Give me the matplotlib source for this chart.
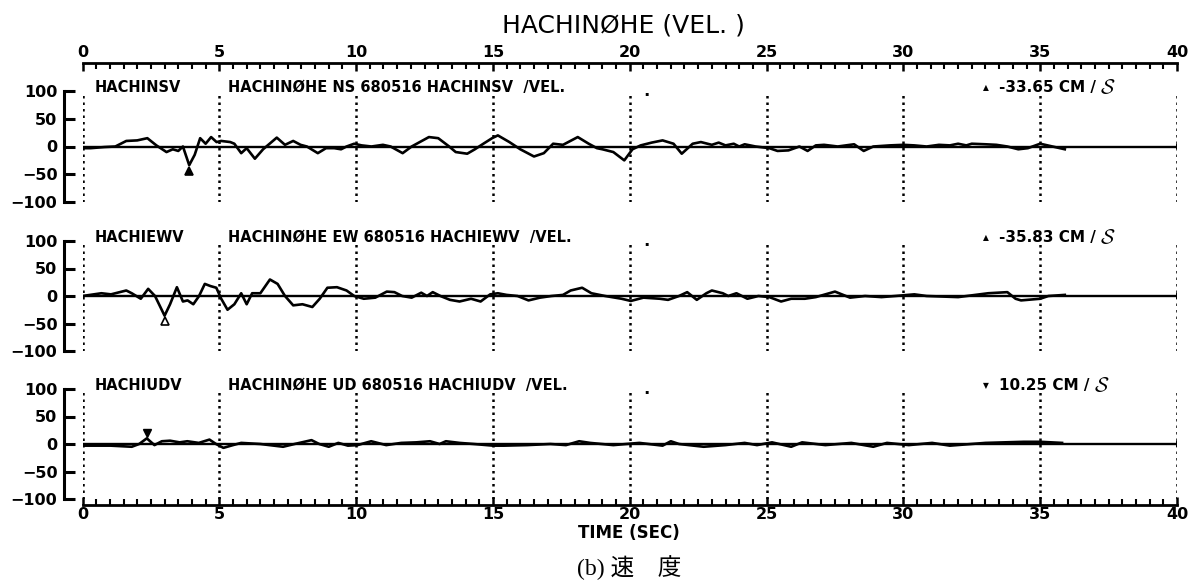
import numpy as np
import matplotlib
matplotlib.use("Agg")
import matplotlib.pyplot as plt
from matplotlib.ticker import MultipleLocator
from matplotlib.transforms import offset_copy

plt.rcParams['font.family'] = ['DejaVu Sans']
plt.rcParams['font.weight'] = 'bold'
plt.rcParams['mathtext.fontset'] = 'cm'

# ---------------- data ----------------
t_ns = [0, 0.3, 0.8, 1.2, 1.6, 2.0, 2.37, 2.7, 3.07, 3.3,
        3.5, 3.67, 3.9, 4.1, 4.3, 4.5, 4.7, 4.9, 5.07, 5.4,
        5.55, 5.8, 6.0, 6.3, 6.6, 7.1, 7.4, 7.7, 7.97, 8.2,
        8.6, 8.9, 9.2, 9.45, 9.65, 9.93, 10.2, 10.56, 10.98, 11.26,
        11.7, 12.03, 12.66, 13.0, 13.4, 13.64, 14.06, 14.34, 14.65, 14.97,
        15.18, 15.6, 16.0, 16.5, 16.86, 17.2, 17.56, 18.1, 18.5, 18.8,
        19.0, 19.4, 19.8, 20.1, 20.4, 20.8, 21.2, 21.6, 21.9, 22.3,
        22.6, 23.0, 23.25, 23.5, 23.8, 24.0, 24.2, 24.6, 25.1, 25.4,
        25.8, 26.2, 26.5, 26.8, 27.1, 27.6, 28.2, 28.55, 28.9, 29.5,
        30.0, 30.4, 30.85, 31.3, 31.7, 32.0, 32.3, 32.5, 33.0, 33.4,
        33.8, 34.2, 34.55, 35.0, 35.45, 35.9]
v_ns = [-3, -3, -1, 0, 10, 11, 15, 2, -10, -5,
        -8, 0, -33.65, -15, 15, 5, 17, 8, 10, 8,
        5, -12, -3, -22, -5, 16, 3, 10, 3, 0,
        -12, -3, -3, -5, 0, 5, 2, 0, 3, 0,
        -12, 0, 17, 15, 0, -10, -13, -5, 5, 15,
        20, 8, -5, -18, -12, 5, 3, 17, 5, -3,
        -5, -10, -25, -5, 2, 7, 11, 5, -13, 5,
        8, 3, 7, 2, 5, 0, 4, 0, -3, -8,
        -7, 0, -8, 2, 3, 0, 4, -8, 0, 2,
        3, 2, 0, 3, 2, 5, 2, 5, 4, 3,
        0, -5, -3, 5, 0, -5]

t_ew = [0, 0.69, 1.04, 1.6, 1.8, 2.13, 2.4, 2.65, 3.0, 3.2,
        3.45, 3.67, 3.84, 4.05, 4.26, 4.47, 4.68, 4.89, 5.07, 5.3,
        5.55, 5.8, 6.0, 6.2, 6.5, 6.85, 7.13, 7.4, 7.7, 8.04,
        8.4, 8.67, 8.95, 9.3, 9.65, 9.93, 10.28, 10.7, 11.12, 11.4,
        11.68, 12.03, 12.38, 12.59, 12.8, 13.08, 13.43, 13.78, 14.2, 14.55,
        14.9, 15.18, 15.5, 15.9, 16.3, 16.72, 17.14, 17.56, 17.84, 18.26,
        18.6, 19.1, 19.7, 20.04, 20.5, 21.1, 21.4, 21.8, 22.1, 22.45,
        22.8, 23.0, 23.4, 23.6, 23.9, 24.3, 24.7, 25.1, 25.53, 25.9,
        26.4, 26.8, 27.5, 28.05, 28.6, 29.2, 29.7, 30.4, 30.85, 32.0,
        33.1, 33.8, 34.1, 34.3, 35.0, 35.3, 35.9]
v_ew = [0, 5, 3, 10, 5, -5, 13, 0, -35.83, -15,
        16, -10, -8, -15, 0, 22, 18, 15, -5, -25,
        -15, 5, -15, 5, 5, 30, 22, 0, -17, -15,
        -20, -5, 15, 16, 10, 0, -5, -3, 8, 7,
        0, -3, 6, 0, 7, 0, -7, -10, -5, -10,
        3, 5, 2, 0, -8, -3, 0, 2, 10, 15,
        5, 0, -5, -9, -3, -5, -7, 0, 7, -7,
        5, 10, 5, 0, 5, -5, 0, -2, -10, -5,
        -5, -2, 8, -3, 0, -2, 0, 3, 0, -2,
        5, 7, -5, -8, -5, 0, 2]

t_ud = [0, 1.03, 1.8, 2.07, 2.35, 2.63, 2.9, 3.2, 3.55, 3.83,
        4.25, 4.64, 4.88, 5.15, 5.5, 5.8, 6.5, 7.33, 7.75, 8.37,
        8.65, 9.0, 9.35, 9.7, 10.05, 10.55, 11.1, 11.65, 12.2, 12.7,
        13.05, 13.28, 13.78, 14.3, 15.0, 15.4, 16.25, 17.1, 17.67, 18.15,
        18.55, 19.4, 20.35, 21.2, 21.5, 21.8, 22.7, 23.5, 24.2, 24.65,
        25.2, 25.9, 26.3, 27.15, 28.1, 28.9, 29.4, 30.2, 31.05, 31.7,
        33.0, 34.4, 35.0, 35.8]
v_ud = [-3, -3, -5, 0, 10.25, -2, 5, 6, 3, 5,
        2, 8, 0, -7, -2, 2, 0, -5, 0, 7,
        0, -5, 2, -3, -2, 5, -2, 2, 3, 5,
        0, 5, 2, 0, -3, -3, -2, 0, -2, 5,
        2, -2, 2, -3, 5, 0, -5, -2, 2, -2,
        3, -5, 3, -2, 2, -5, 2, -2, 2, -3,
        2, 4, 4, 2]

names = ["HACHINSV", "HACHIEWV", "HACHIUDV"]
headers = ["HACHIN\u00d8HE NS 680516 HACHINSV  /VEL.",
           "HACHIN\u00d8HE EW 680516 HACHIEWV  /VEL.",
           "HACHIN\u00d8HE UD 680516 HACHIUDV  /VEL."]
peak_labels = ["-33.65 CM /", "-35.83 CM /", "10.25 CM /"]
peak_kind = ["min", "min", "max"]
y_ticks = [-100, -50, 0, 50, 100]
x_major = [0, 5, 10, 15, 20, 25, 30, 35, 40]

series = [(t_ns, v_ns), (t_ew, v_ew), (t_ud, v_ud)]

# ---------------- layout ----------------
W, H = 1189, 586
fig = plt.figure(figsize=(W / 100, H / 100), dpi=100)
x0, x1 = 82.5, 1177
panels_px = [(91, 202), (241, 351), (389, 499)]

axes = []
for i, (top, bot) in enumerate(panels_px):
    ax = fig.add_axes([x0 / W, 1 - bot / H, (x1 - x0) / W, (bot - top) / H])
    ax.patch.set_visible(False)
    ax.set_xlim(0, 40)
    ax.set_ylim(-100, 100)
    for s in ['right', 'top', 'bottom']:
        ax.spines[s].set_visible(False)
    ax.spines['left'].set_position(('outward', 13))
    ax.spines['left'].set_linewidth(2.2)
    ax.set_yticks(y_ticks)
    ax.tick_params(axis='y', direction='in', length=8, width=2.2,
                   labelsize=11.5, pad=5)
    ax.xaxis.set_major_locator(MultipleLocator(5))
    ax.xaxis.set_minor_locator(MultipleLocator(0.5))
    ax.tick_params(axis='x', which='both', bottom=False, top=False,
                   labelbottom=False, labeltop=False)

    # dotted time grid
    for xv in x_major:
        ax.axvline(xv, ymin=0.0, ymax=0.97, color='black', lw=1.8,
                   ls=(0, (1, 1.6)), zorder=1)
    # base line
    ax.plot([0, 40], [0, 0], color='black', lw=1.7, zorder=2)
    ax.plot([40, 40], [-3, 3], color='black', lw=1.4, zorder=2)

    t, v = series[i]
    ax.plot(t, v, color='black', lw=1.9, zorder=3, solid_joinstyle='round')

    # peak marker
    va = np.array(v)
    if peak_kind[i] == "min":
        k = int(np.argmin(va))
        tr = offset_copy(ax.transData, fig=fig, x=0, y=-4, units='points')
        ax.plot(t[k], v[k], marker='^', ms=5.5, color='black',
                mfc='black' if i == 0 else 'white', mew=1.2, transform=tr, zorder=4)
        tri = "\u25b2"
    else:
        k = int(np.argmax(va))
        tr = offset_copy(ax.transData, fig=fig, x=0, y=4, units='points')
        ax.plot(t[k], v[k], marker='v', ms=5.5, color='black', transform=tr, zorder=4)
        tri = "\u25bc"

    # header texts
    ax.text(0.45, 106, names[i], fontsize=10.5, va='center', ha='left')
    ax.text(5.3, 106, headers[i], fontsize=10.5, va='center', ha='left')
    ax.text(20.5, 100, ".", fontsize=12, va='center', ha='left')
    ax.text(32.9, 106, tri, fontsize=5.5, va='center', ha='left')
    pl = ax.text(33.5, 106, peak_labels[i], fontsize=11, va='center', ha='left')
    ax.annotate("$\\mathcal{S}$", xy=(1, 0.5), xycoords=pl, xytext=(3, 0),
                textcoords='offset points', va='center', ha='left', fontsize=15)
    axes.append(ax)

# top time axis
ax = axes[0]
ax.spines['top'].set_visible(True)
ax.spines['top'].set_position(('outward', 20))
ax.spines['top'].set_linewidth(2)
ax.tick_params(axis='x', which='both', top=True, labeltop=True, direction='in')
ax.tick_params(axis='x', which='major', length=6, width=1.8, labelsize=11.5, pad=2)
ax.tick_params(axis='x', which='minor', length=4, width=1.5)

# bottom time axis
ax = axes[2]
ax.spines['bottom'].set_visible(True)
ax.spines['bottom'].set_position(('outward', 4))
ax.spines['bottom'].set_linewidth(2)
ax.tick_params(axis='x', which='both', bottom=True, labelbottom=True, direction='in')
ax.tick_params(axis='x', which='major', length=6, width=1.8, labelsize=11.5, pad=2)
ax.tick_params(axis='x', which='minor', length=4, width=1.5)

fig.text(623 / W, 1 - 25 / H, "HACHIN\u00d8HE (VEL. )", ha='center', va='center',
         fontsize=18, fontweight='normal', family='DejaVu Sans')
fig.text(629 / W, 1 - 533 / H, "TIME (SEC)", ha='center', va='center',
         fontsize=12, fontweight='bold')
fig.text(629 / W, 1 - 568 / H, "(b) \u901f\u3000\u5ea6", ha='center', va='center',
         fontsize=17, fontweight='normal',
         family=['Liberation Serif', 'Noto Sans CJK JP'])

fig.savefig("out.png", dpi=100)
